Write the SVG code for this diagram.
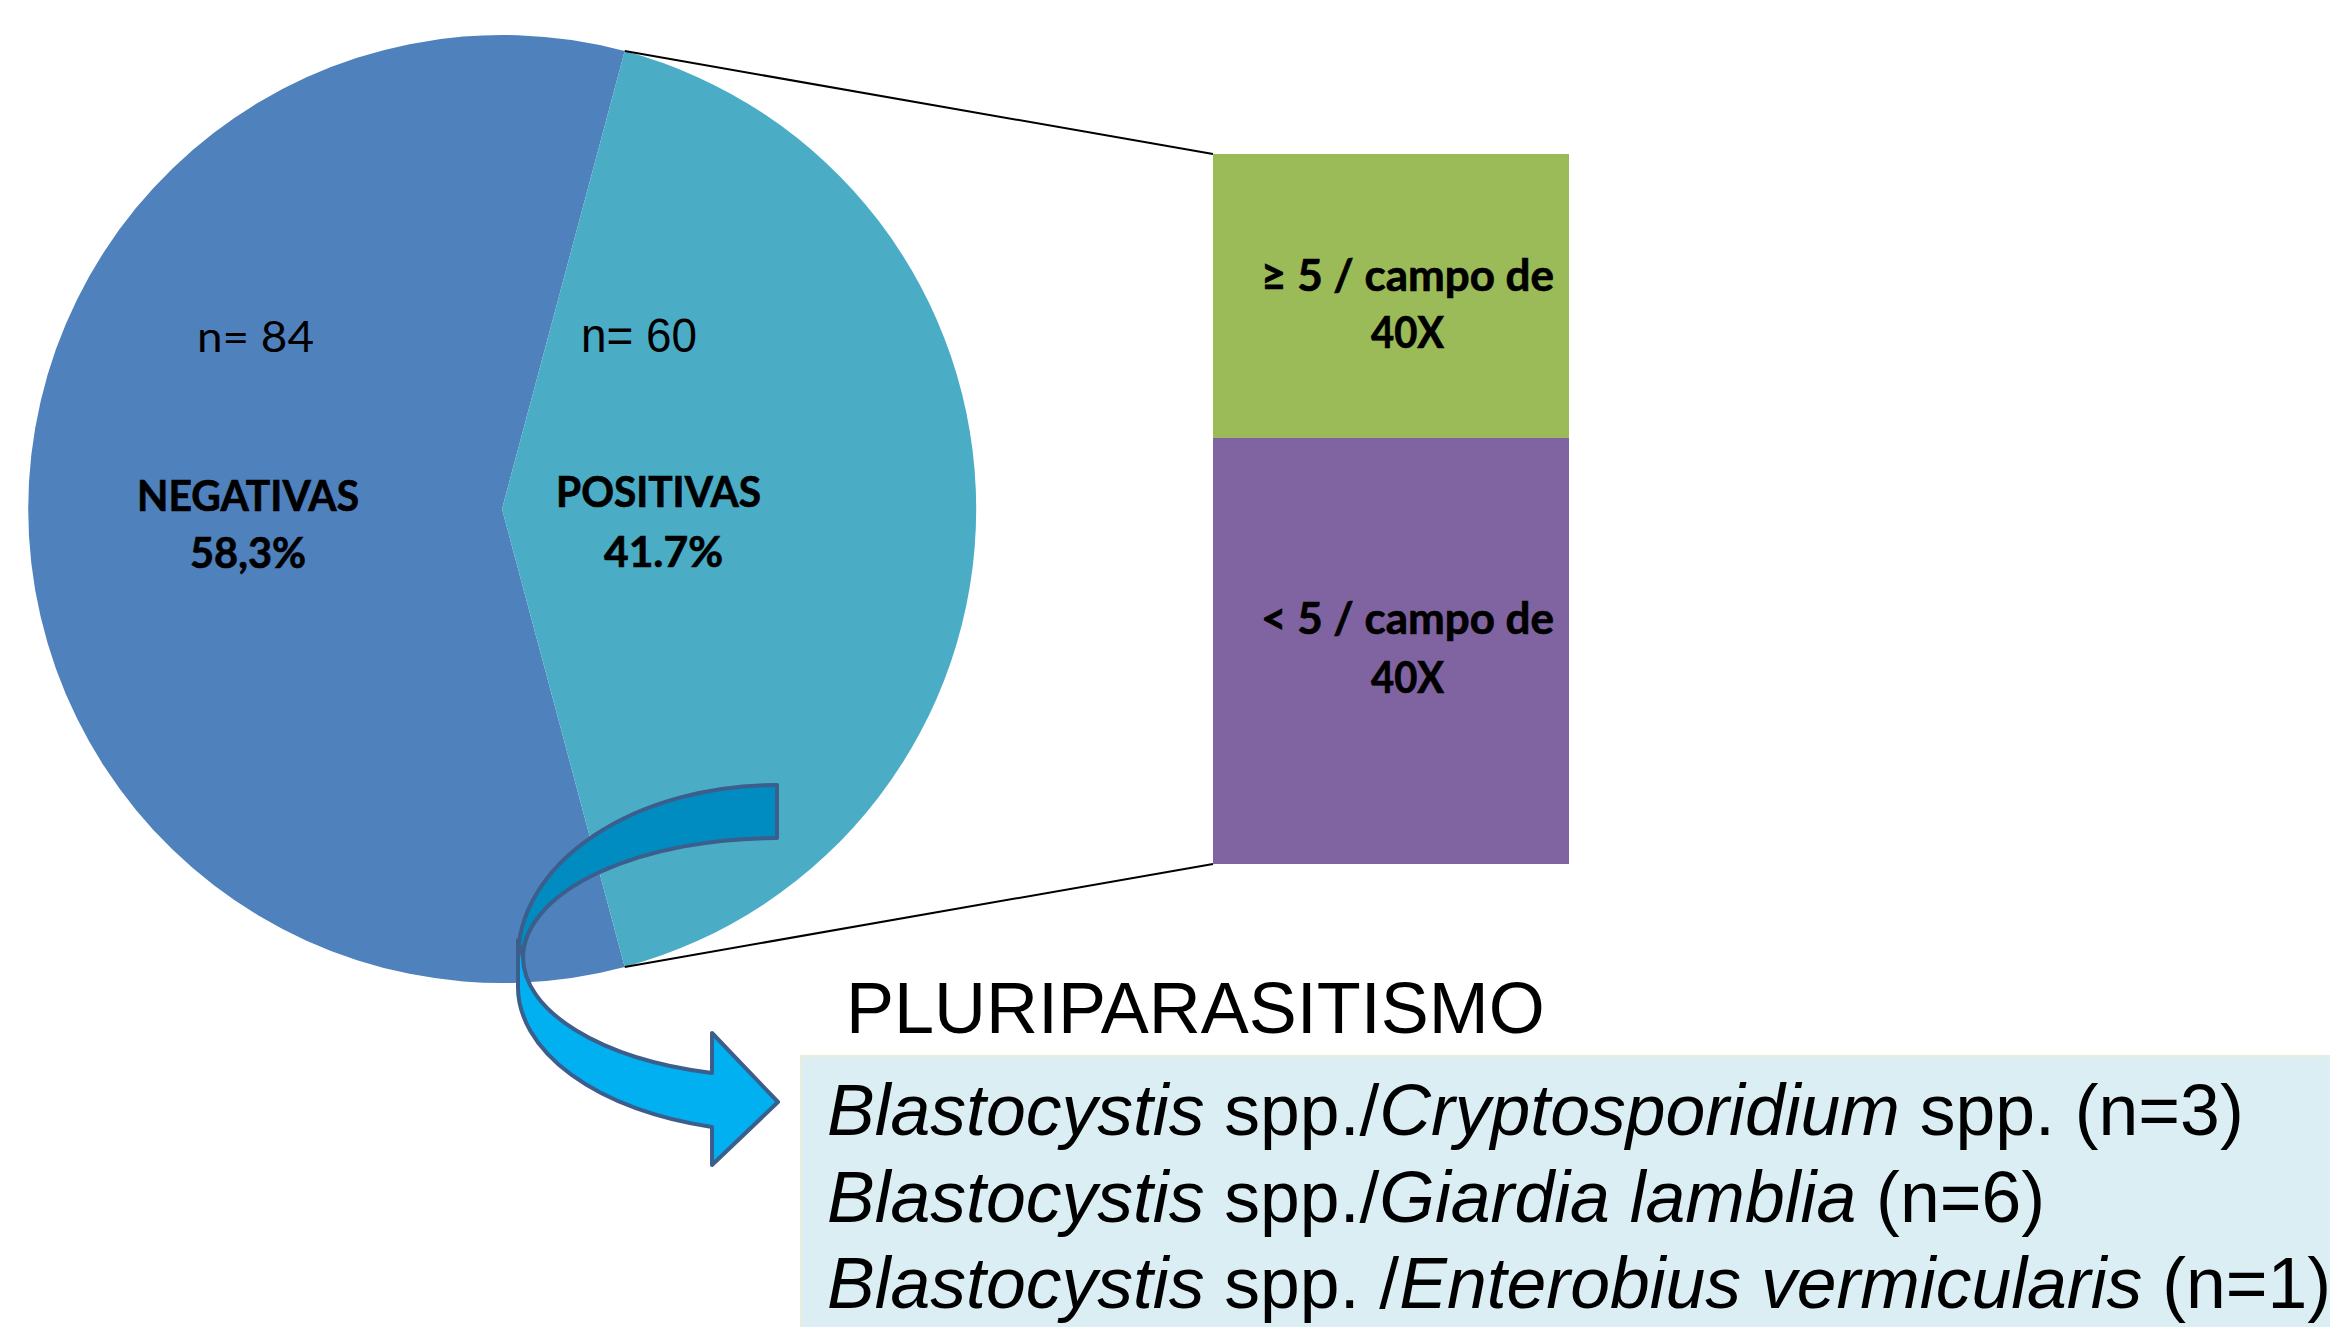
<svg xmlns="http://www.w3.org/2000/svg" width="2330" height="1327" viewBox="0 0 2330 1327">
<style>
.cal{font-family:Lato,"Open Sans","DejaVu Sans",sans-serif;fill:#000}
.b{font-weight:bold;stroke:#000;stroke-width:0.7}
.ar{font-family:"Liberation Sans",Arial,sans-serif;fill:#000}
.it{font-style:italic}
.conn{stroke:#000;stroke-width:2;fill:none}
.arr{stroke:#3B5E8C;stroke-width:4;stroke-linejoin:round}
</style>
<rect width="2330" height="1327" fill="#fff"/>
<g id="pie-negative">
<path d="M502,509 L624.7,51.1 A474,474 0 1 0 624.7,966.9 Z" fill="#4F81BD"/>
<text class="cal" x="197" y="352" font-size="43" textLength="117" lengthAdjust="spacingAndGlyphs">n= 84</text>
<text class="cal b" x="137" y="511" font-size="42" textLength="222" lengthAdjust="spacingAndGlyphs">NEGATIVAS</text>
<text class="cal b" x="190" y="568" font-size="42" textLength="116" lengthAdjust="spacingAndGlyphs">58,3%</text>
</g>
<g id="pie-positive">
<path d="M502,509 L624.7,51.1 A474,474 0 0 1 624.7,966.9 Z" fill="#4BACC6"/>
<text class="ar" x="581" y="352" font-size="48" textLength="116" lengthAdjust="spacingAndGlyphs">n= 60</text>
<text class="cal b" x="556" y="507" font-size="42" textLength="205" lengthAdjust="spacingAndGlyphs">POSITIVAS</text>
<text class="cal b" x="604" y="567" font-size="42" textLength="119" lengthAdjust="spacingAndGlyphs">41.7%</text>
</g>
<g id="connectors">
<line class="conn" x1="624.7" y1="51.1" x2="1213" y2="154"/>
<line class="conn" x1="624.7" y1="966.9" x2="1213" y2="864"/>
</g>
<g id="box-high">
<rect x="1213" y="154" width="356" height="284" fill="#9BBB59"/>
<text class="cal b" x="1261" y="291" font-size="43" textLength="293" lengthAdjust="spacingAndGlyphs">≥ 5 / campo de</text>
<text class="cal b" x="1371" y="348" font-size="43" textLength="73" lengthAdjust="spacingAndGlyphs">40X</text>
</g>
<g id="box-low">
<rect x="1213" y="438" width="356" height="426" fill="#8064A2"/>
<text class="cal b" x="1261" y="634" font-size="43" textLength="293" lengthAdjust="spacingAndGlyphs">&lt; 5 / campo de</text>
<text class="cal b" x="1371" y="693" font-size="43" textLength="73" lengthAdjust="spacingAndGlyphs">40X</text>
</g>
<g id="list">
<rect x="801" y="1056" width="1535" height="280" fill="#DAEEF3" stroke="#E9EDDC" stroke-width="2"/>
<text class="ar" x="827" y="1135" font-size="71.5"><tspan class="it">Blastocystis</tspan> spp./<tspan class="it">Cryptosporidium</tspan> spp. (n=3)</text>
<text class="ar" x="827" y="1222" font-size="71.5"><tspan class="it">Blastocystis</tspan> spp./<tspan class="it">Giardia lamblia</tspan> (n=6)</text>
<text class="ar" x="827" y="1308" font-size="71.5"><tspan class="it">Blastocystis</tspan> spp. /<tspan class="it">Enterobius vermicularis</tspan> (n=1)</text>
</g>
<g id="title">
<text class="ar" x="846" y="1033" font-size="72">PLURIPARASITISMO</text>
</g>
<g id="arrow">
<path class="arr" fill="#008CC1" d="M777,785 A259,173 0 0 0 518,958 L523,957 A254,120 0 0 1 777,838 Z"/>
<path class="arr" fill="#00B0F0" d="M518,940 L518,985 A259,145 0 0 0 712,1127 L712,1165 L778,1102 L712,1033 L712,1073 A254,120 0 0 1 523,957 Z"/>
</g>
</svg>
